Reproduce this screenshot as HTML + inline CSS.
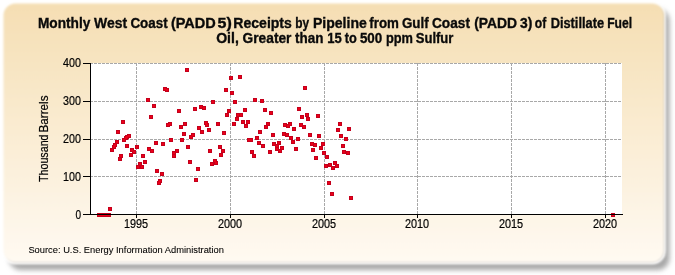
<!DOCTYPE html>
<html><head><meta charset="utf-8"><style>
html,body{margin:0;padding:0;background:#fff;overflow:hidden;}
svg{display:block;}
text{font-family:"Liberation Sans",sans-serif;}
</style></head><body>
<div id="w"><svg width="675" height="275" viewBox="0 0 675 275">
<defs>
<linearGradient id="bg" x1="0" y1="0" x2="0" y2="1">
<stop offset="0" stop-color="#F5DEB3"/>
<stop offset="1" stop-color="#FFFAF2"/>
</linearGradient>
<filter id="sh" x="-10%" y="-10%" width="120%" height="130%"><feGaussianBlur stdDeviation="2.6"/></filter>
<filter id="gray" x="-3%" y="-3%" width="106%" height="106%"><feOffset dx="0" dy="0"/></filter>
<filter id="soft" x="-5%" y="-5%" width="110%" height="110%"><feGaussianBlur stdDeviation="0.9"/></filter>
</defs>
<rect x="9" y="9" width="660.5" height="261" rx="12" fill="#a8a8a8" filter="url(#sh)"/>
<rect x="3" y="3" width="661.5" height="260" rx="12" fill="none" stroke="#ffffff" stroke-width="2.5" filter="url(#soft)"/>
<rect x="3.5" y="3.5" width="660.5" height="259" rx="12" fill="url(#bg)" filter="url(#soft)"/>
<rect x="90" y="63" width="532" height="151" fill="#fff"/>
<g stroke="#a8a8a8" stroke-width="1" stroke-dasharray="3 1" shape-rendering="crispEdges"><line x1="90" y1="176.5" x2="622" y2="176.5"/><line x1="90" y1="139.5" x2="622" y2="139.5"/><line x1="90" y1="101.5" x2="622" y2="101.5"/><line x1="90" y1="63.5" x2="622" y2="63.5"/><line x1="136.5" y1="63" x2="136.5" y2="214"/><line x1="230.5" y1="63" x2="230.5" y2="214"/><line x1="324.5" y1="63" x2="324.5" y2="214"/><line x1="417.5" y1="63" x2="417.5" y2="214"/><line x1="511.5" y1="63" x2="511.5" y2="214"/><line x1="605.5" y1="63" x2="605.5" y2="214"/></g>
<g shape-rendering="crispEdges"><g fill="#c4001c"><rect x="97" y="213" width="4" height="4"/><rect x="99" y="213" width="4" height="4"/><rect x="100" y="213" width="4" height="4"/><rect x="101" y="213" width="4" height="4"/><rect x="103" y="213" width="4" height="4"/><rect x="104" y="213" width="4" height="4"/><rect x="106" y="213" width="4" height="4"/><rect x="107" y="213" width="4" height="4"/><rect x="108" y="207" width="4" height="4"/><rect x="110" y="148" width="4" height="4"/><rect x="112" y="145" width="4" height="4"/><rect x="113" y="143" width="4" height="4"/><rect x="115" y="140" width="4" height="4"/><rect x="116" y="130" width="4" height="4"/><rect x="118" y="157" width="4" height="4"/><rect x="119" y="154" width="4" height="4"/><rect x="121" y="120" width="4" height="4"/><rect x="122" y="138" width="4" height="4"/><rect x="124" y="136" width="4" height="4"/><rect x="125" y="144" width="4" height="4"/><rect x="125" y="135" width="4" height="4"/><rect x="127" y="134" width="4" height="4"/><rect x="129" y="153" width="4" height="4"/><rect x="130" y="148" width="4" height="4"/><rect x="132" y="150" width="4" height="4"/><rect x="135" y="145" width="4" height="4"/><rect x="136" y="165" width="4" height="4"/><rect x="138" y="162" width="4" height="4"/><rect x="140" y="165" width="4" height="4"/><rect x="141" y="154" width="4" height="4"/><rect x="143" y="160" width="4" height="4"/><rect x="146" y="98" width="4" height="4"/><rect x="147" y="147" width="4" height="4"/><rect x="149" y="115" width="4" height="4"/><rect x="150" y="149" width="4" height="4"/><rect x="152" y="104" width="4" height="4"/><rect x="154" y="141" width="4" height="4"/><rect x="155" y="169" width="4" height="4"/><rect x="157" y="181" width="4" height="4"/><rect x="158" y="179" width="4" height="4"/><rect x="160" y="172" width="4" height="4"/><rect x="161" y="142" width="4" height="4"/><rect x="163" y="87" width="4" height="4"/><rect x="165" y="88" width="4" height="4"/><rect x="166" y="123" width="4" height="4"/><rect x="168" y="122" width="4" height="4"/><rect x="169" y="138" width="4" height="4"/><rect x="172" y="151" width="4" height="4"/><rect x="172" y="154" width="4" height="4"/><rect x="175" y="149" width="4" height="4"/><rect x="177" y="109" width="4" height="4"/><rect x="179" y="125" width="4" height="4"/><rect x="180" y="138" width="4" height="4"/><rect x="182" y="132" width="4" height="4"/><rect x="183" y="122" width="4" height="4"/><rect x="185" y="68" width="4" height="4"/><rect x="186" y="145" width="4" height="4"/><rect x="188" y="160" width="4" height="4"/><rect x="189" y="135" width="4" height="4"/><rect x="191" y="133" width="4" height="4"/><rect x="193" y="107" width="4" height="4"/><rect x="194" y="178" width="4" height="4"/><rect x="196" y="167" width="4" height="4"/><rect x="197" y="126" width="4" height="4"/><rect x="199" y="105" width="4" height="4"/><rect x="200" y="130" width="4" height="4"/><rect x="202" y="106" width="4" height="4"/><rect x="204" y="121" width="4" height="4"/><rect x="205" y="123" width="4" height="4"/><rect x="207" y="128" width="4" height="4"/><rect x="208" y="149" width="4" height="4"/><rect x="210" y="162" width="4" height="4"/><rect x="211" y="100" width="4" height="4"/><rect x="213" y="159" width="4" height="4"/><rect x="214" y="161" width="4" height="4"/><rect x="216" y="122" width="4" height="4"/><rect x="218" y="145" width="4" height="4"/><rect x="219" y="153" width="4" height="4"/><rect x="221" y="149" width="4" height="4"/><rect x="222" y="131" width="4" height="4"/><rect x="224" y="88" width="4" height="4"/><rect x="225" y="113" width="4" height="4"/><rect x="227" y="109" width="4" height="4"/><rect x="229" y="76" width="4" height="4"/><rect x="230" y="91" width="4" height="4"/><rect x="232" y="122" width="4" height="4"/><rect x="233" y="100" width="4" height="4"/><rect x="235" y="117" width="4" height="4"/><rect x="236" y="113" width="4" height="4"/><rect x="238" y="75" width="4" height="4"/><rect x="239" y="113" width="4" height="4"/><rect x="241" y="120" width="4" height="4"/><rect x="243" y="108" width="4" height="4"/><rect x="244" y="124" width="4" height="4"/><rect x="246" y="120" width="4" height="4"/><rect x="247" y="138" width="4" height="4"/><rect x="249" y="138" width="4" height="4"/><rect x="250" y="150" width="4" height="4"/><rect x="252" y="154" width="4" height="4"/><rect x="253" y="98" width="4" height="4"/><rect x="255" y="136" width="4" height="4"/><rect x="257" y="141" width="4" height="4"/><rect x="258" y="130" width="4" height="4"/><rect x="260" y="99" width="4" height="4"/><rect x="261" y="144" width="4" height="4"/><rect x="263" y="108" width="4" height="4"/><rect x="264" y="125" width="4" height="4"/><rect x="266" y="122" width="4" height="4"/><rect x="268" y="150" width="4" height="4"/><rect x="269" y="111" width="4" height="4"/><rect x="271" y="133" width="4" height="4"/><rect x="272" y="142" width="4" height="4"/><rect x="275" y="144" width="4" height="4"/><rect x="275" y="147" width="4" height="4"/><rect x="277" y="141" width="4" height="4"/><rect x="278" y="149" width="4" height="4"/><rect x="280" y="146" width="4" height="4"/><rect x="282" y="132" width="4" height="4"/><rect x="283" y="123" width="4" height="4"/><rect x="285" y="133" width="4" height="4"/><rect x="286" y="124" width="4" height="4"/><rect x="288" y="122" width="4" height="4"/><rect x="289" y="136" width="4" height="4"/><rect x="291" y="140" width="4" height="4"/><rect x="292" y="127" width="4" height="4"/><rect x="294" y="147" width="4" height="4"/><rect x="296" y="137" width="4" height="4"/><rect x="297" y="107" width="4" height="4"/><rect x="299" y="123" width="4" height="4"/><rect x="300" y="115" width="4" height="4"/><rect x="302" y="125" width="4" height="4"/><rect x="303" y="86" width="4" height="4"/><rect x="305" y="113" width="4" height="4"/><rect x="306" y="117" width="4" height="4"/><rect x="308" y="133" width="4" height="4"/><rect x="310" y="142" width="4" height="4"/><rect x="311" y="148" width="4" height="4"/><rect x="313" y="143" width="4" height="4"/><rect x="314" y="156" width="4" height="4"/><rect x="316" y="114" width="4" height="4"/><rect x="317" y="134" width="4" height="4"/><rect x="319" y="146" width="4" height="4"/><rect x="321" y="142" width="4" height="4"/><rect x="322" y="151" width="4" height="4"/><rect x="324" y="164" width="4" height="4"/><rect x="325" y="155" width="4" height="4"/><rect x="327" y="181" width="4" height="4"/><rect x="328" y="163" width="4" height="4"/><rect x="330" y="192" width="4" height="4"/><rect x="331" y="166" width="4" height="4"/><rect x="333" y="161" width="4" height="4"/><rect x="335" y="164" width="4" height="4"/><rect x="336" y="128" width="4" height="4"/><rect x="338" y="122" width="4" height="4"/><rect x="339" y="134" width="4" height="4"/><rect x="341" y="144" width="4" height="4"/><rect x="342" y="150" width="4" height="4"/><rect x="344" y="137" width="4" height="4"/><rect x="346" y="151" width="4" height="4"/><rect x="347" y="127" width="4" height="4"/><rect x="349" y="196" width="4" height="4"/><rect x="611" y="213" width="4" height="4"/></g><g fill="#ec0018"><rect x="98" y="214" width="2" height="2"/><rect x="100" y="214" width="2" height="2"/><rect x="101" y="214" width="2" height="2"/><rect x="102" y="214" width="2" height="2"/><rect x="104" y="214" width="2" height="2"/><rect x="105" y="214" width="2" height="2"/><rect x="107" y="214" width="2" height="2"/><rect x="108" y="214" width="2" height="2"/><rect x="109" y="208" width="2" height="2"/><rect x="111" y="149" width="2" height="2"/><rect x="113" y="146" width="2" height="2"/><rect x="114" y="144" width="2" height="2"/><rect x="116" y="141" width="2" height="2"/><rect x="117" y="131" width="2" height="2"/><rect x="119" y="158" width="2" height="2"/><rect x="120" y="155" width="2" height="2"/><rect x="122" y="121" width="2" height="2"/><rect x="123" y="139" width="2" height="2"/><rect x="125" y="137" width="2" height="2"/><rect x="126" y="145" width="2" height="2"/><rect x="126" y="136" width="2" height="2"/><rect x="128" y="135" width="2" height="2"/><rect x="130" y="154" width="2" height="2"/><rect x="131" y="149" width="2" height="2"/><rect x="133" y="151" width="2" height="2"/><rect x="136" y="146" width="2" height="2"/><rect x="137" y="166" width="2" height="2"/><rect x="139" y="163" width="2" height="2"/><rect x="141" y="166" width="2" height="2"/><rect x="142" y="155" width="2" height="2"/><rect x="144" y="161" width="2" height="2"/><rect x="147" y="99" width="2" height="2"/><rect x="148" y="148" width="2" height="2"/><rect x="150" y="116" width="2" height="2"/><rect x="151" y="150" width="2" height="2"/><rect x="153" y="105" width="2" height="2"/><rect x="155" y="142" width="2" height="2"/><rect x="156" y="170" width="2" height="2"/><rect x="158" y="182" width="2" height="2"/><rect x="159" y="180" width="2" height="2"/><rect x="161" y="173" width="2" height="2"/><rect x="162" y="143" width="2" height="2"/><rect x="164" y="88" width="2" height="2"/><rect x="166" y="89" width="2" height="2"/><rect x="167" y="124" width="2" height="2"/><rect x="169" y="123" width="2" height="2"/><rect x="170" y="139" width="2" height="2"/><rect x="173" y="152" width="2" height="2"/><rect x="173" y="155" width="2" height="2"/><rect x="176" y="150" width="2" height="2"/><rect x="178" y="110" width="2" height="2"/><rect x="180" y="126" width="2" height="2"/><rect x="181" y="139" width="2" height="2"/><rect x="183" y="133" width="2" height="2"/><rect x="184" y="123" width="2" height="2"/><rect x="186" y="69" width="2" height="2"/><rect x="187" y="146" width="2" height="2"/><rect x="189" y="161" width="2" height="2"/><rect x="190" y="136" width="2" height="2"/><rect x="192" y="134" width="2" height="2"/><rect x="194" y="108" width="2" height="2"/><rect x="195" y="179" width="2" height="2"/><rect x="197" y="168" width="2" height="2"/><rect x="198" y="127" width="2" height="2"/><rect x="200" y="106" width="2" height="2"/><rect x="201" y="131" width="2" height="2"/><rect x="203" y="107" width="2" height="2"/><rect x="205" y="122" width="2" height="2"/><rect x="206" y="124" width="2" height="2"/><rect x="208" y="129" width="2" height="2"/><rect x="209" y="150" width="2" height="2"/><rect x="211" y="163" width="2" height="2"/><rect x="212" y="101" width="2" height="2"/><rect x="214" y="160" width="2" height="2"/><rect x="215" y="162" width="2" height="2"/><rect x="217" y="123" width="2" height="2"/><rect x="219" y="146" width="2" height="2"/><rect x="220" y="154" width="2" height="2"/><rect x="222" y="150" width="2" height="2"/><rect x="223" y="132" width="2" height="2"/><rect x="225" y="89" width="2" height="2"/><rect x="226" y="114" width="2" height="2"/><rect x="228" y="110" width="2" height="2"/><rect x="230" y="77" width="2" height="2"/><rect x="231" y="92" width="2" height="2"/><rect x="233" y="123" width="2" height="2"/><rect x="234" y="101" width="2" height="2"/><rect x="236" y="118" width="2" height="2"/><rect x="237" y="114" width="2" height="2"/><rect x="239" y="76" width="2" height="2"/><rect x="240" y="114" width="2" height="2"/><rect x="242" y="121" width="2" height="2"/><rect x="244" y="109" width="2" height="2"/><rect x="245" y="125" width="2" height="2"/><rect x="247" y="121" width="2" height="2"/><rect x="248" y="139" width="2" height="2"/><rect x="250" y="139" width="2" height="2"/><rect x="251" y="151" width="2" height="2"/><rect x="253" y="155" width="2" height="2"/><rect x="254" y="99" width="2" height="2"/><rect x="256" y="137" width="2" height="2"/><rect x="258" y="142" width="2" height="2"/><rect x="259" y="131" width="2" height="2"/><rect x="261" y="100" width="2" height="2"/><rect x="262" y="145" width="2" height="2"/><rect x="264" y="109" width="2" height="2"/><rect x="265" y="126" width="2" height="2"/><rect x="267" y="123" width="2" height="2"/><rect x="269" y="151" width="2" height="2"/><rect x="270" y="112" width="2" height="2"/><rect x="272" y="134" width="2" height="2"/><rect x="273" y="143" width="2" height="2"/><rect x="276" y="145" width="2" height="2"/><rect x="276" y="148" width="2" height="2"/><rect x="278" y="142" width="2" height="2"/><rect x="279" y="150" width="2" height="2"/><rect x="281" y="147" width="2" height="2"/><rect x="283" y="133" width="2" height="2"/><rect x="284" y="124" width="2" height="2"/><rect x="286" y="134" width="2" height="2"/><rect x="287" y="125" width="2" height="2"/><rect x="289" y="123" width="2" height="2"/><rect x="290" y="137" width="2" height="2"/><rect x="292" y="141" width="2" height="2"/><rect x="293" y="128" width="2" height="2"/><rect x="295" y="148" width="2" height="2"/><rect x="297" y="138" width="2" height="2"/><rect x="298" y="108" width="2" height="2"/><rect x="300" y="124" width="2" height="2"/><rect x="301" y="116" width="2" height="2"/><rect x="303" y="126" width="2" height="2"/><rect x="304" y="87" width="2" height="2"/><rect x="306" y="114" width="2" height="2"/><rect x="307" y="118" width="2" height="2"/><rect x="309" y="134" width="2" height="2"/><rect x="311" y="143" width="2" height="2"/><rect x="312" y="149" width="2" height="2"/><rect x="314" y="144" width="2" height="2"/><rect x="315" y="157" width="2" height="2"/><rect x="317" y="115" width="2" height="2"/><rect x="318" y="135" width="2" height="2"/><rect x="320" y="147" width="2" height="2"/><rect x="322" y="143" width="2" height="2"/><rect x="323" y="152" width="2" height="2"/><rect x="325" y="165" width="2" height="2"/><rect x="326" y="156" width="2" height="2"/><rect x="328" y="182" width="2" height="2"/><rect x="329" y="164" width="2" height="2"/><rect x="331" y="193" width="2" height="2"/><rect x="332" y="167" width="2" height="2"/><rect x="334" y="162" width="2" height="2"/><rect x="336" y="165" width="2" height="2"/><rect x="337" y="129" width="2" height="2"/><rect x="339" y="123" width="2" height="2"/><rect x="340" y="135" width="2" height="2"/><rect x="342" y="145" width="2" height="2"/><rect x="343" y="151" width="2" height="2"/><rect x="345" y="138" width="2" height="2"/><rect x="347" y="152" width="2" height="2"/><rect x="348" y="128" width="2" height="2"/><rect x="350" y="197" width="2" height="2"/><rect x="612" y="214" width="2" height="2"/></g></g>
<g stroke="#000" stroke-width="1" shape-rendering="crispEdges">
<line x1="90.5" y1="63" x2="90.5" y2="215"/>
<line x1="90" y1="214.5" x2="623" y2="214.5"/>
<line x1="83" y1="214.5" x2="90" y2="214.5"/><line x1="83" y1="176.5" x2="90" y2="176.5"/><line x1="83" y1="139.5" x2="90" y2="139.5"/><line x1="83" y1="101.5" x2="90" y2="101.5"/><line x1="83" y1="63.5" x2="90" y2="63.5"/><line x1="136.5" y1="214" x2="136.5" y2="218"/><line x1="230.5" y1="214" x2="230.5" y2="218"/><line x1="324.5" y1="214" x2="324.5" y2="218"/><line x1="417.5" y1="214" x2="417.5" y2="218"/><line x1="511.5" y1="214" x2="511.5" y2="218"/><line x1="605.5" y1="214" x2="605.5" y2="218"/>
</g>

<g filter="url(#gray)">
<g font-size="12.4" fill="#000" stroke="#000" stroke-width="0.2"><text x="75.4" y="218.6" textLength="5.6" lengthAdjust="spacingAndGlyphs">0</text><text x="63.1" y="180.6" textLength="17.9" lengthAdjust="spacingAndGlyphs">100</text><text x="63.1" y="142.6" textLength="17.9" lengthAdjust="spacingAndGlyphs">200</text><text x="63.1" y="104.6" textLength="17.9" lengthAdjust="spacingAndGlyphs">300</text><text x="63.1" y="66.6" textLength="17.9" lengthAdjust="spacingAndGlyphs">400</text><text x="123.9" y="227.8" textLength="24.2" lengthAdjust="spacingAndGlyphs">1995</text><text x="217.9" y="227.8" textLength="24.2" lengthAdjust="spacingAndGlyphs">2000</text><text x="311.9" y="227.8" textLength="24.2" lengthAdjust="spacingAndGlyphs">2005</text><text x="404.9" y="227.8" textLength="24.2" lengthAdjust="spacingAndGlyphs">2010</text><text x="498.9" y="227.8" textLength="24.2" lengthAdjust="spacingAndGlyphs">2015</text><text x="592.9" y="227.8" textLength="24.2" lengthAdjust="spacingAndGlyphs">2020</text></g>
<g font-size="14.6" font-weight="bold" fill="#0a0a0a" stroke="#0a0a0a" stroke-width="0.35"><text x="37.90" y="28.2" textLength="52.46" lengthAdjust="spacingAndGlyphs">Monthly</text><text x="94.10" y="28.2" textLength="33.05" lengthAdjust="spacingAndGlyphs">West</text><text x="130.40" y="28.2" textLength="37.20" lengthAdjust="spacingAndGlyphs">Coast</text><text x="170.90" y="28.2" textLength="44.89" lengthAdjust="spacingAndGlyphs">(PADD</text><text x="217.50" y="28.2" textLength="14.25" lengthAdjust="spacingAndGlyphs">5)</text><text x="233.30" y="28.2" textLength="58.58" lengthAdjust="spacingAndGlyphs">Receipts</text><text x="295.20" y="28.2" textLength="13.87" lengthAdjust="spacingAndGlyphs">by</text><text x="312.90" y="28.2" textLength="53.94" lengthAdjust="spacingAndGlyphs">Pipeline</text><text x="369.30" y="28.2" textLength="29.63" lengthAdjust="spacingAndGlyphs">from</text><text x="401.90" y="28.2" textLength="26.76" lengthAdjust="spacingAndGlyphs">Gulf</text><text x="432.00" y="28.2" textLength="37.98" lengthAdjust="spacingAndGlyphs">Coast</text><text x="474.20" y="28.2" textLength="42.92" lengthAdjust="spacingAndGlyphs">(PADD</text><text x="520.10" y="28.2" textLength="12.34" lengthAdjust="spacingAndGlyphs">3)</text><text x="534.80" y="28.2" textLength="11.44" lengthAdjust="spacingAndGlyphs">of</text><text x="550.70" y="28.2" textLength="53.33" lengthAdjust="spacingAndGlyphs">Distillate</text><text x="607.20" y="28.2" textLength="24.97" lengthAdjust="spacingAndGlyphs">Fuel</text><text x="216.20" y="42.6" textLength="22.64" lengthAdjust="spacingAndGlyphs">Oil,</text><text x="242.60" y="42.6" textLength="48.83" lengthAdjust="spacingAndGlyphs">Greater</text><text x="295.00" y="42.6" textLength="28.34" lengthAdjust="spacingAndGlyphs">than</text><text x="327.20" y="42.6" textLength="14.53" lengthAdjust="spacingAndGlyphs">15</text><text x="344.70" y="42.6" textLength="12.05" lengthAdjust="spacingAndGlyphs">to</text><text x="359.90" y="42.6" textLength="22.34" lengthAdjust="spacingAndGlyphs">500</text><text x="385.90" y="42.6" textLength="27.03" lengthAdjust="spacingAndGlyphs">ppm</text><text x="415.70" y="42.6" textLength="37.76" lengthAdjust="spacingAndGlyphs">Sulfur</text></g>
<text transform="translate(47.8,182.00) rotate(-90)" font-size="11.9" fill="#000" stroke="#000" stroke-width="0.2" textLength="47.56" lengthAdjust="spacingAndGlyphs">Thousand</text><text transform="translate(47.8,132.50) rotate(-90)" font-size="11.9" fill="#000" stroke="#000" stroke-width="0.2" textLength="37.05" lengthAdjust="spacingAndGlyphs">Barrels</text>
<text x="28.4" y="253.3" font-size="9.5" fill="#000" stroke="#000" stroke-width="0.08" textLength="195.5" lengthAdjust="spacingAndGlyphs">Source: U.S. Energy Information Administration</text>
</g>
</svg></div>
</body></html>
